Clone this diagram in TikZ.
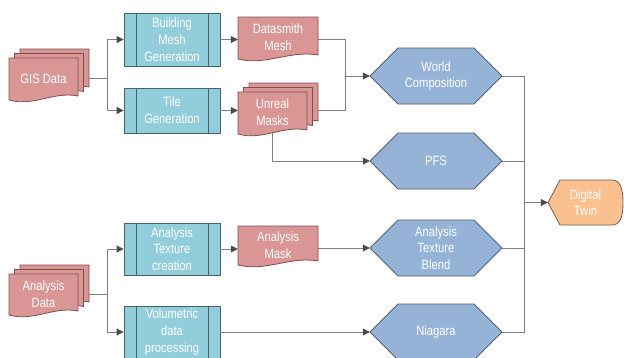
\documentclass[tikz,border=0pt]{standalone}
\usepackage{fontspec}
\setmainfont{Liberation Sans}[FakeStretch=0.83]
\usetikzlibrary{arrows.meta,calc}
\definecolor{docfill}{RGB}{217,150,148}
\definecolor{docdraw}{RGB}{125,80,80}
\definecolor{procfill}{RGB}{146,205,220}
\definecolor{procdraw}{RGB}{70,100,110}
\definecolor{hexfill}{RGB}{149,179,215}
\definecolor{hexdraw}{RGB}{85,95,115}
\definecolor{dtfill}{RGB}{250,192,144}
\definecolor{dtdraw}{RGB}{110,95,85}
\definecolor{linegray}{RGB}{128,128,128}
\definecolor{tipgray}{RGB}{75,75,75}
\newcommand\docshape[4]{\filldraw[docshp] ({#1},{#2}) -- ({#3},{#2}) -- ({#3},{(#4)-7}) .. controls ({(#1)+0.65*((#3)-(#1))},{(#4)-12}) and ({(#1)+0.35*((#3)-(#1))},{(#4)+4}) .. ({#1},{(#4)-3}) -- cycle;}
\newcommand\multidoc[4]{\docshape{(#1)+11}{(#2)-9}{(#3)+11}{(#4)-9}\docshape{(#1)+5.5}{(#2)-4.5}{(#3)+5.5}{(#4)-4.5}\docshape{#1}{#2}{#3}{#4}}
\newcommand\hexshape[2]{\filldraw[hexshp] ({(#1)-66},{#2}) -- ({(#1)-38},{(#2)-28}) -- ({(#1)+38},{(#2)-28}) -- ({(#1)+66},{#2}) -- ({(#1)+38},{(#2)+28}) -- ({(#1)-38},{(#2)+28}) -- cycle;}
\tikzset{
  txt/.style={text=white, font=\fontsize{13.5}{16.7}\selectfont, align=center, inner sep=0pt},
  docshp/.style={fill=docfill, draw=docdraw, line width=0.8pt},
  hexshp/.style={fill=hexfill, draw=hexdraw, line width=0.8pt},
  doctext/.style={txt, minimum height=40pt},
  hextext/.style={txt, minimum width=132pt, minimum height=56pt},
  proc/.style={txt, fill=procfill, draw=procdraw, line width=0.8pt, minimum width=96pt,
    path picture={\draw[procdraw, line width=0.8pt]
      ([xshift=12pt]path picture bounding box.north west) -- ([xshift=12pt]path picture bounding box.south west)
      ([xshift=-12pt]path picture bounding box.north east) -- ([xshift=-12pt]path picture bounding box.south east);}},
  line/.style={draw=linegray, line width=0.8pt},
  conn/.style={line, -{Triangle[length=7pt,width=7pt,color=tipgray]}},
}
\begin{document}
\begin{tikzpicture}[x=1pt, y=-1pt]
\useasboundingbox (0,0) rectangle (624,357);
\clip (0,0) rectangle (624,357);
% documents
\multidoc{9}{58}{78}{103}
\node[doctext, minimum width=69pt, minimum height=41pt] (gis) at (43.5,78.5) {GIS Data};
\docshape{238}{17}{318}{62}
\node[doctext, minimum width=80pt, minimum height=41pt] (dsm) at (278,37.5) {Datasmith\\Mesh};
\multidoc{238}{92}{307}{137}
\node[doctext, minimum width=69pt, minimum height=41pt] (um) at (272.5,112.5) {Unreal\\Masks};
\multidoc{9}{274}{78}{318}
\node[doctext, minimum width=69pt] (ad) at (43.5,294) {Analysis\\Data};
\docshape{238}{226}{318}{268}
\node[doctext, minimum width=80pt, minimum height=38pt] (am) at (278,245) {Analysis\\Mask};
% processes
\node[proc, minimum height=53pt] (bmg) at (172,39.5) {Building\\Mesh\\Generation};
\node[proc, minimum height=45pt] (tg) at (172,110.5) {Tile\\Generation};
\node[proc, minimum height=52pt] (atc) at (172,249) {Analysis\\Texture\\creation};
\node[proc, minimum height=52pt] (vdp) at (172,332) {Volumetric\\data\\processing};
% hexagons
\hexshape{436}{76}
\node[hextext] (wc) at (436,76) {World\\Composition};
\hexshape{436}{161}
\node[hextext] (pfs) at (436,161) {PFS};
\hexshape{436}{248}
\node[hextext] (atb) at (436,248) {Analysis\\Texture\\Blend};
\hexshape{436}{332}
\node[hextext] (nia) at (436,332) {Niagara};
% display
\filldraw[fill=dtfill, draw=dtdraw, line width=0.8pt] (548,202.5) -- (560,180) -- (612,180) .. controls (620,180) and (623,188) .. (623,202.5) .. controls (623,217) and (620,225) .. (612,225) -- (560,225) -- cycle;
\node[txt, minimum width=75pt, minimum height=45pt] (dt) at (585.5,202.5) {Digital\\Twin};
% connectors
\draw[line] ($(gis.east)+(11,0)$) -- ++(18,0) coordinate (j1);
\draw[conn] (j1) |- (bmg.west);
\draw[conn] (j1) |- (tg.west);
\draw[conn] (bmg.east) -- (bmg.east -| dsm.west);
\draw[conn] (tg.east) -- (tg.east -| um.west);
\draw[line] (bmg.east -| dsm.east) -- ++(27,0) coordinate (j2) |- ($(tg.east -| um.east)+(11,0)$);
\draw[conn] (j2 |- wc.west) -- (wc.west);
\draw[conn] (um.south) |- (pfs.west);
\draw[line] ($(ad.east)+(11,0)$) -- ++(18,0) coordinate (j3);
\draw[conn] (j3) |- (atc.west);
\draw[conn] (j3) |- (vdp.west);
\draw[conn] (atc.east) -- (atc.east -| am.west);
\draw[conn] (am.east |- atb.west) -- (atb.west);
\draw[conn] (vdp.east) -- (nia.west);
\draw[line] (wc.east) -- ++(22,0) coordinate (j4) |- (nia.east);
\draw[line] (pfs.east) -- (pfs.east -| j4);
\draw[line] (atb.east) -- (atb.east -| j4);
\draw[conn] (j4 |- dt.west) -- (dt.west);
\end{tikzpicture}
\end{document}
